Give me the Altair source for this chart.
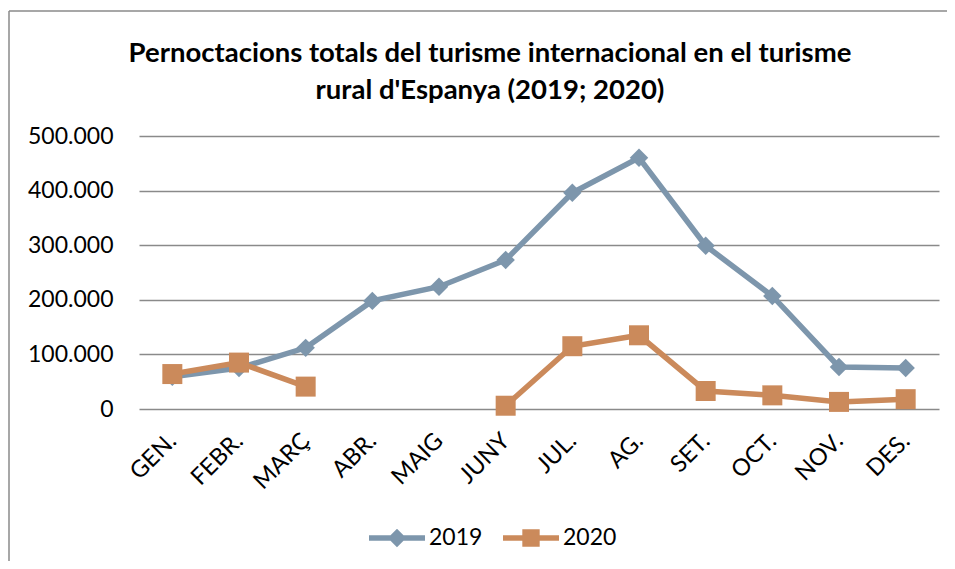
import altair as alt
import pandas as pd

months = ["GEN.", "FEBR.", "MARÇ", "ABR.", "MAIG", "JUNY", "JUL.", "AG.", "SET.", "OCT.", "NOV.", "DES."]
v2019 = [59000, 75000, 112000, 198000, 224000, 273000, 396000, 460000, 299000, 207000, 77000, 75000]
v2020 = [64000, 85000, 41000, None, None, 6000, 115000, 135000, 33000, 25000, 13000, 18000]
series = ["2019", "2020"]
colors = ["#7D96AC", "#CB8A5B"]
y_ticks = [0, 100000, 200000, 300000, 400000, 500000]

rows = []
for s, vals in zip(series, [v2019, v2020]):
    for m, v in zip(months, vals):
        rows.append({"mes": m, "any": s, "valor": v})
df = pd.DataFrame(rows)

FONT = "Lato"

PATH_2019 = "M-1,-0.1L1,-0.1L1,0.1L-1,0.1Z M0,-0.33L0.33,0L0,0.33L-0.33,0Z"
PATH_2020 = "M-1,-0.1L1,-0.1L1,0.1L-1,0.1Z M-0.31,-0.31L0.31,-0.31L0.31,0.31L-0.31,0.31Z"

x_enc = alt.X(
    "mes:N",
    sort=months,
    title=None,
    axis=alt.Axis(
        labelAngle=-45,
        labelAlign="right",
        labelBaseline="middle",
        labelFontSize=23.5,
        labelFont=FONT,
        labelColor="#000000",
        labelPadding=28,
        ticks=False,
        domain=False,
        grid=False,
    ),
)
y_enc = alt.Y(
    "valor:Q",
    title=None,
    scale=alt.Scale(domain=[0, 500000], nice=False),
    axis=alt.Axis(
        values=y_ticks,
        labelExpr="replace(format(datum.value, ',d'), ',', '.')",
        labelFontSize=23,
        labelFont=FONT,
        labelColor="#000000",
        labelPadding=26,
        ticks=False,
        domain=False,
        grid=True,
        gridColor="#8A8A8A",
        gridWidth=1.4,
    ),
)
color_scale = alt.Scale(domain=series, range=colors)

legend_props = dict(
    title=None,
    orient="none",
    direction="horizontal",
    legendX=230,
    legendY=374,
    labelFontSize=23,
    labelFont=FONT,
    labelColor="#000000",
    labelOffset=4,
    columnPadding=20,
    symbolSize=3136,
    symbolStrokeWidth=0,
    padding=0,
)

base = alt.Chart(df)

legend_layer = base.transform_filter("false").mark_point(filled=True, opacity=1).encode(
    x=x_enc,
    y=y_enc,
    color=alt.Color("any:N", scale=color_scale, legend=alt.Legend(**legend_props)),
    shape=alt.Shape(
        "any:N",
        scale=alt.Scale(domain=series, range=[PATH_2019, PATH_2020]),
        legend=alt.Legend(**legend_props),
    ),
)

lines = base.mark_line(strokeWidth=5.5, invalid="break-paths-filter-domains").encode(
    x=x_enc,
    y=y_enc,
    color=alt.Color("any:N", scale=color_scale, legend=None),
    detail="any:N",
)
pts19 = base.transform_filter(alt.datum.any == "2019").mark_point(
    filled=True, opacity=1, shape="diamond", size=340
).encode(x=x_enc, y=y_enc, color=alt.Color("any:N", scale=color_scale, legend=None))
pts20 = base.transform_filter(alt.datum.any == "2020").mark_point(
    filled=True, opacity=1, shape="square", size=400
).encode(x=x_enc, y=y_enc, color=alt.Color("any:N", scale=color_scale, legend=None))

frame_df = pd.DataFrame({"b": [0]})
border_left = alt.Chart(frame_df).mark_rule(stroke="#8A8A8A", strokeWidth=1.5).encode(
    x=alt.value(-130), y=alt.value(-125), y2=alt.value(600)
)
border_top = alt.Chart(frame_df).mark_rule(stroke="#8A8A8A", strokeWidth=1.5).encode(
    x=alt.value(-130), x2=alt.value(900), y=alt.value(-125)
)

chart = alt.layer(border_left, border_top, legend_layer, lines, pts19, pts20).properties(
    width=800,
    height=273,
    title=alt.TitleParams(
        text=["Pernoctacions totals del turisme internacional en el turisme", "rural d'Espanya (2019; 2020)"],
        font=FONT,
        fontSize=27.5,
        fontWeight="bold",
        color="#000000",
        anchor="middle",
        dx=-49,
        dy=94,
        offset=0,
        lineHeight=37,
    ),
    autosize=alt.AutoSizeParams(type="none"),
    padding={"left": 131, "top": 128, "right": 8, "bottom": 152},
).configure_view(stroke=None)

chart.save("out.html", embed_options={"renderer": "svg", "actions": False})
